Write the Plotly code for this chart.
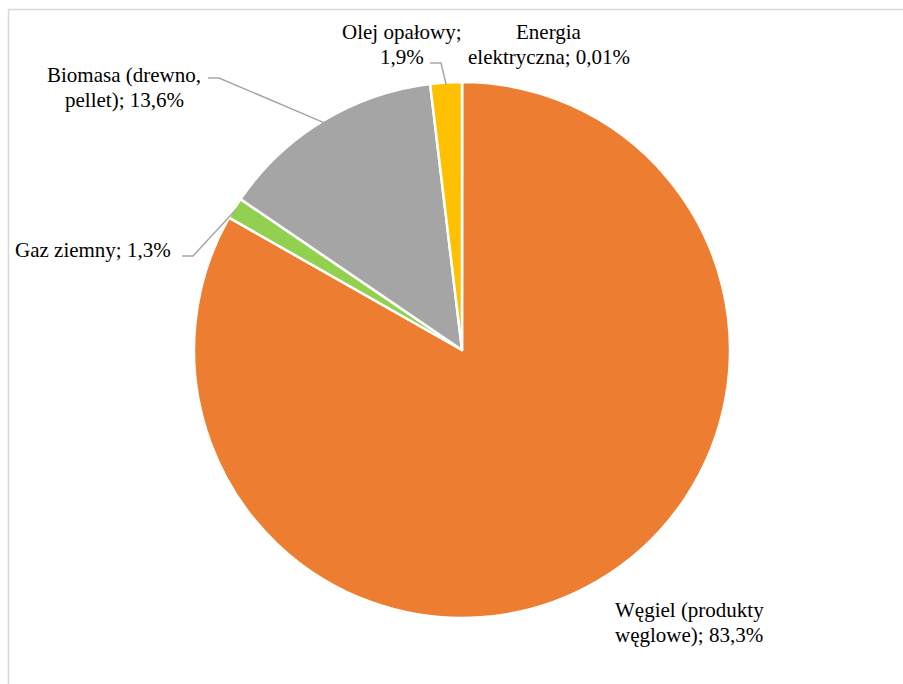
import math
import plotly.graph_objects as go

# ---- data ----
categories = ["Energia elektryczna", "Węgiel (produkty węglowe)", "Gaz ziemny",
              "Biomasa (drewno, pellet)", "Olej opałowy"]
values = [0.01, 83.3, 1.3, 13.6, 1.9]
value_labels = ["0,01%", "83,3%", "1,3%", "13,6%", "1,9%"]
colors = ["#4472C4", "#ED7D31", "#92D050", "#A5A5A5", "#FFC000"]

W, H = 903, 684
FONT = "Liberation Serif, Times New Roman, serif"
FS = 21

# pie geometry (pixels)
CX, CY, R = 462, 350, 266
R_DOMAIN = 268  # plotly draws slightly inside its domain

def px(x):
    return x / W

def py(y):
    return 1 - y / H

fig = go.Figure(go.Pie(
    labels=categories,
    values=values,
    sort=False,
    direction="clockwise",
    rotation=0,
    marker=dict(colors=colors, line=dict(color="white", width=2.5)),
    textinfo="none",
    hoverinfo="skip",
    domain=dict(x=[px(CX - R_DOMAIN), px(CX + R_DOMAIN)],
                y=[py(CY + R_DOMAIN), py(CY - R_DOMAIN)]),
))

# label text layout (lines, anchor x, first-line y, x anchor)
label_layout = {
    "Energia elektryczna": (["Energia", "elektryczna; 0,01%"], 549, 32, "center"),
    "Węgiel (produkty węglowe)": (["Węgiel (produkty", "węglowe); 83,3%"], 613, 610, "left"),
    "Gaz ziemny": (["Gaz ziemny; 1,3%"], 93, 250, "center"),
    "Biomasa (drewno, pellet)": (["Biomasa (drewno,", "pellet); 13,6%"], 124, 75, "center"),
    "Olej opałowy": (["Olej opałowy;", "1,9%"], 402, 32, "center"),
}
# leader line starts (horizontal segment) for labels that have one
leader_start = {
    "Gaz ziemny": ((182, 256), (193, 256)),
    "Biomasa (drewno, pellet)": ((208, 78), (219, 78)),
    "Olej opałowy": ((430, 63), (441, 63)),
}

annotations = []
for cat in categories:
    lines, x, y0, anchor = label_layout[cat]
    for i, t in enumerate(lines):
        annotations.append(dict(
            x=px(x), y=py(y0 + 25 * i), xref="paper", yref="paper",
            text=t, showarrow=False, xanchor=anchor, yanchor="middle",
            font=dict(family=FONT, size=FS, color="#000000"),
        ))

shapes = []
total = sum(values)
cum = 0.0
for cat, v in zip(categories, values):
    mid = (cum + v / 2) / total * 2 * math.pi
    cum += v
    if cat in leader_start:
        ex = CX + R * math.sin(mid)
        ey = CY - R * math.cos(mid)
        (ax, ay), (bx, by) = leader_start[cat]
        path = f"M {px(ax)} {py(ay)} L {px(bx)} {py(by)} L {px(ex)} {py(ey)}"
        shapes.append(dict(type="path", path=path, xref="paper", yref="paper",
                           line=dict(color="#A6A6A6", width=1.5)))

# chart-area border
shapes.append(dict(type="rect", xref="paper", yref="paper",
                   x0=px(8.5), x1=1.2, y0=-0.2, y1=py(9.5),
                   line=dict(color="#D9D9D9", width=1.5)))

fig.update_layout(
    width=W, height=H,
    margin=dict(l=0, r=0, t=0, b=0),
    paper_bgcolor="white",
    plot_bgcolor="white",
    showlegend=False,
    annotations=annotations,
    shapes=shapes,
    font=dict(family=FONT, size=FS),
)

fig.write_html("out.html")
